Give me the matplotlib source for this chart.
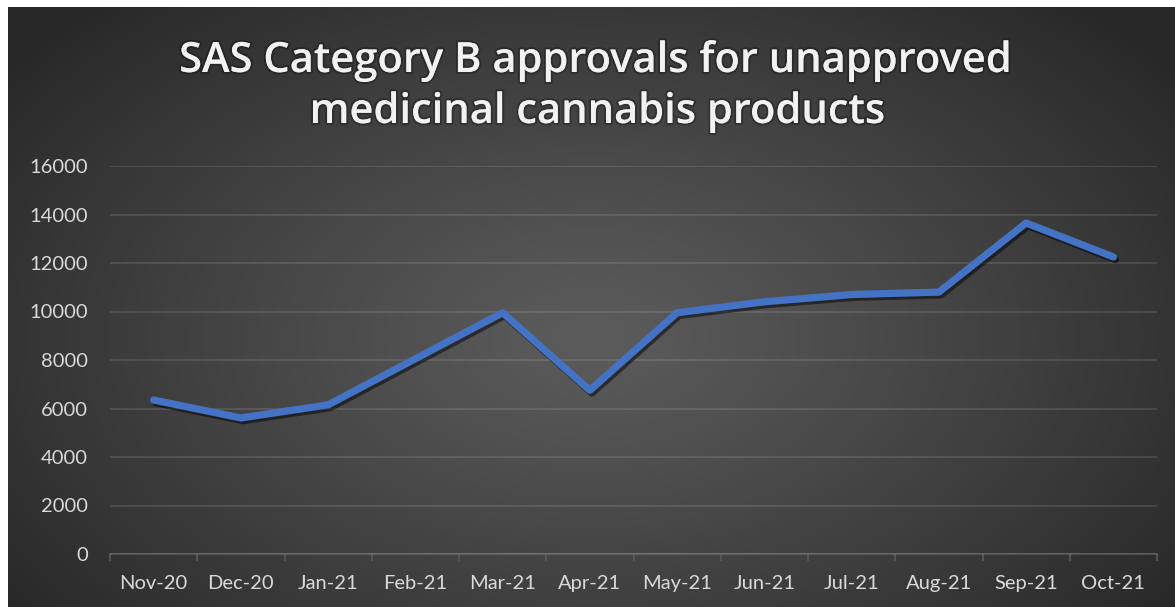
import matplotlib.pyplot as plt
import matplotlib.patheffects as pe
import numpy as np

months = ["Nov-20", "Dec-20", "Jan-21", "Feb-21", "Mar-21", "Apr-21",
          "May-21", "Jun-21", "Jul-21", "Aug-21", "Sep-21", "Oct-21"]
approvals = [6350, 5610, 6150, 8050, 9950, 6750,
             9950, 10400, 10700, 10800, 13650, 12250]
yticks = [0, 2000, 4000, 6000, 8000, 10000, 12000, 14000, 16000]

W, H = 1175, 607
fig = plt.figure(figsize=(W / 100, H / 100), dpi=100, facecolor="white")

# dark radial gradient background
bg = fig.add_axes([8 / W, 0, 1 - 8 / W, 1 - 7 / H])
yy, xx = np.mgrid[0:1:300j, 0:1:600j]
r = np.sqrt(((xx - 0.5) / 0.62) ** 2 + ((yy - 0.55) / 0.75) ** 2)
r = np.clip(r, 0, 1)
c = 0.36 - (0.36 - 0.16) * r ** 1.1
img = np.dstack([c, c, c])
bg.imshow(img, aspect="auto", extent=[0, 1, 0, 1], interpolation="bilinear")
bg.axis("off")

ax = fig.add_axes([110 / W, 53 / H, 1047 / W, 388 / H])
ax.set_facecolor("none")
x = np.arange(len(months))
ax.plot(x, approvals, color="#4472C4", lw=5.2, solid_capstyle="round",
        solid_joinstyle="round",
        path_effects=[pe.SimpleLineShadow(offset=(1.5, -2), shadow_color="black", alpha=0.5),
                      pe.Normal()])
ax.set_xlim(-0.5, len(months) - 0.5)
ax.set_ylim(0, 16000)
ax.set_yticks(yticks)
ax.set_yticklabels([str(v) for v in yticks])
ax.set_xticks(x)
ax.set_xticklabels(months)
ax.set_xticks(np.arange(-0.5, len(months), 1), minor=True)

for s in ["top", "right", "left"]:
    ax.spines[s].set_visible(False)
ax.spines["bottom"].set_color("white")
ax.spines["bottom"].set_alpha(0.17)
ax.spines["bottom"].set_linewidth(1.2)
ax.grid(axis="y", color="white", alpha=0.14, lw=1.1)
ax.set_axisbelow(True)

ax.tick_params(axis="y", length=0, pad=16, labelsize=14.5, labelcolor="#d9d9d9")
ax.tick_params(axis="x", which="major", length=0, pad=15, labelsize=14.5, labelcolor="#d9d9d9")
ax.tick_params(axis="x", which="minor", length=5, color="#5a5a5a", width=1.2)
for lab in ax.get_xticklabels() + ax.get_yticklabels():
    lab.set_fontfamily("Lato")

title_fx = [pe.withStroke(linewidth=3, foreground=(0, 0, 0, 0.25))]
fig.text(595 / W, 1 - 61 / H, "SAS Category B approvals for unapproved",
         ha="center", va="center", fontsize=30, fontweight="semibold", family="Open Sans",
         color="#f2f2f2", path_effects=title_fx)
fig.text(597 / W, 1 - 112 / H, "medicinal cannabis products",
         ha="center", va="center", fontsize=30, fontweight="semibold", family="Open Sans",
         color="#f2f2f2", path_effects=title_fx)

fig.savefig("out.png", dpi=100, facecolor="white")
